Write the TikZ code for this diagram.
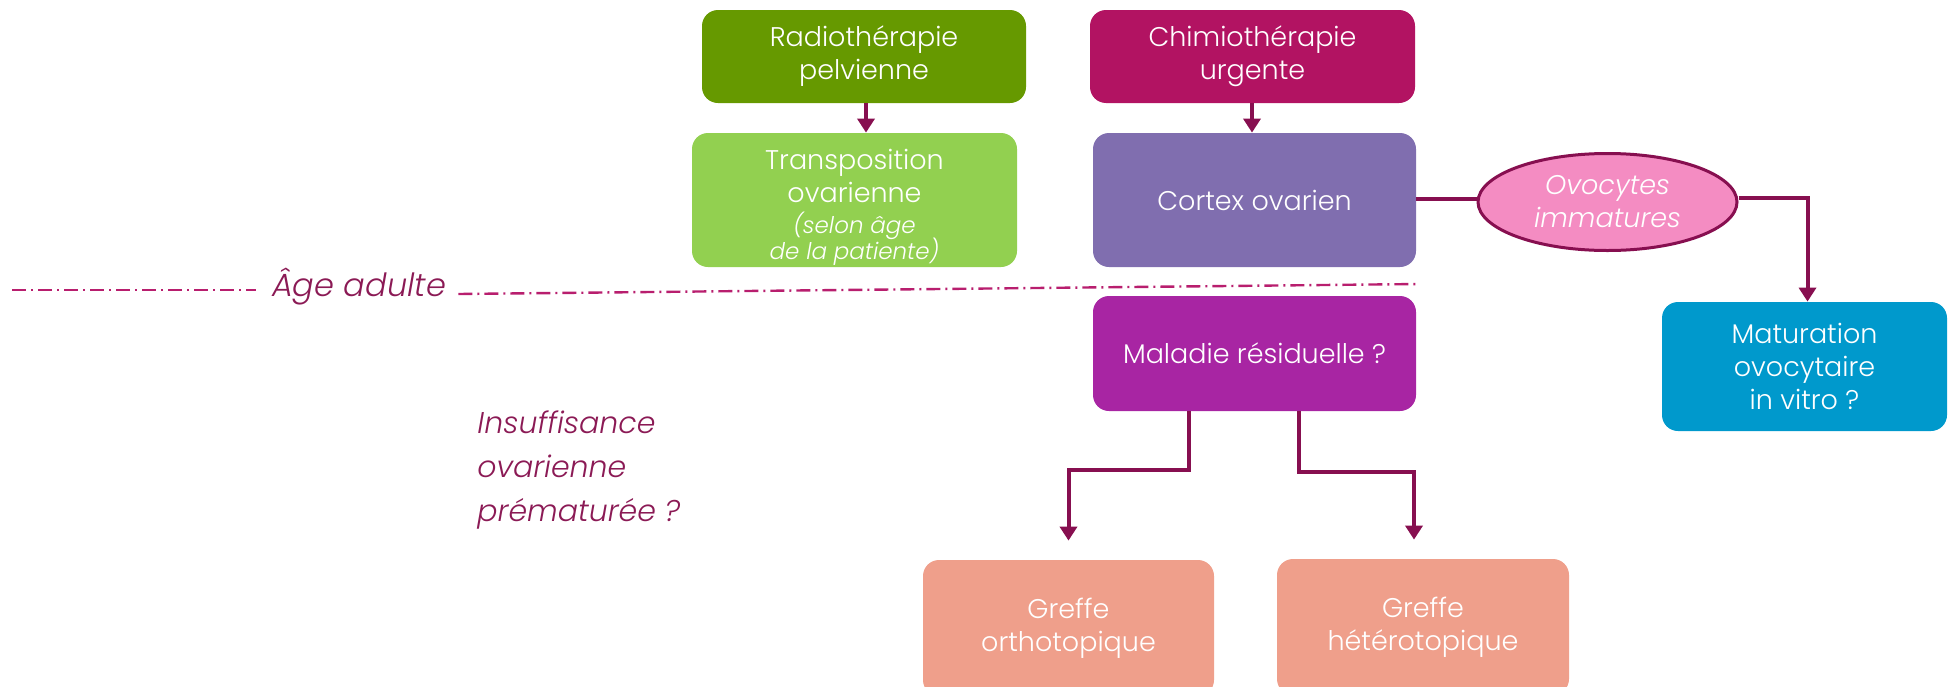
\documentclass[tikz,border=0pt]{standalone}
\usepackage{fontspec}
\setmainfont{Poppins}[UprightFont=* Light, ItalicFont=* Light Italic]
\usetikzlibrary{arrows.meta,shapes.geometric,calc}
\definecolor{cRadio}{RGB}{102,153,0}
\definecolor{cChimio}{RGB}{178,19,98}
\definecolor{cTransp}{RGB}{146,208,80}
\definecolor{cCortex}{RGB}{128,110,175}
\definecolor{cMal}{RGB}{168,37,163}
\definecolor{cMatur}{RGB}{0,153,204}
\definecolor{cGreffe}{RGB}{239,159,139}
\definecolor{cOvo}{RGB}{244,140,194}
\definecolor{cArrow}{RGB}{135,15,80}
\definecolor{cLabel}{RGB}{139,26,85}
\definecolor{cDash}{RGB}{184,30,110}
\newcommand\boxfont{\fontsize{13.5}{16.5}\selectfont}
\newcommand\smallit{\fontsize{11.5}{13}\selectfont\itshape}
\newcommand\bigit{\fontsize{16}{20}\selectfont\itshape}
\newcommand\labit{\fontsize{15}{22}\selectfont\itshape}
\begin{document}
\begin{tikzpicture}[x=0.5pt,y=-0.5pt,
  box/.style={rectangle, rounded corners=8pt, text=white, align=center, font=\boxfont, inner sep=0pt},
  conn/.style={draw=cArrow, line width=2pt},
  arr/.style={conn, -{Triangle[width=8.5pt,length=7pt]}},
  dashline/.style={draw=cDash, line width=1.2pt, dash pattern=on 7pt off 2.5pt on 1pt off 2.5pt}]
\useasboundingbox (0,0) rectangle (1948,686);
% boxes
\node[box, fill=cRadio, minimum width=162pt, minimum height=46.5pt] (radio) at (864,56.5) {Radiothérapie\\pelvienne};
\node[box, fill=cChimio, minimum width=162.5pt, minimum height=46.5pt] (chimio) at (1252.5,56.5) {Chimiothérapie\\urgente};
\node[box, fill=cTransp, minimum width=162.5pt, minimum height=67pt] (transp) at (854.5,200) {\rule{0pt}{17.5pt}Transposition\\ovarienne\\[-1pt]{\smallit (selon âge}\\[-3.5pt]{\smallit de la patiente)}};
\node[box, fill=cCortex, minimum width=161.5pt, minimum height=67pt] (cortex) at (1254.5,200) {Cortex ovarien};
\node[ellipse, draw=cArrow, line width=1.5pt, fill=cOvo, minimum width=129.5pt, minimum height=48.5pt, inner sep=0pt, text=white, align=center, font=\boxfont\itshape] (ovo) at (1607.5,202) {Ovocytes\\immatures};
\node[box, fill=cMatur, minimum width=142.5pt, minimum height=64.5pt] (matur) at (1804.5,366.5) {Maturation\\ovocytaire\\in vitro ?};
\node[box, fill=cMal, minimum width=161.5pt, minimum height=57.5pt] (mal) at (1254.5,353.5) {Maladie résiduelle ?};
\node[box, fill=cGreffe, minimum width=145.5pt, minimum height=68pt] (gortho) at (1068.5,628) {Greffe\\orthotopique};
\node[box, fill=cGreffe, minimum width=146pt, minimum height=68pt] (ghetero) at (1423,627) {Greffe\\hétérotopique};
% labels
\node[text=cLabel, font=\bigit, inner sep=0pt] (age) at (359,287) {Âge adulte};
\node[text=cLabel, font=\labit, align=left, anchor=west, inner sep=0pt] (ipo) at (477,470) {Insuffisance\\ovarienne\\prématurée ?};
% dash-dot line
\coordinate (dl) at (12,290);
\coordinate (dr) at (1420,284);
\draw[dashline] (dl) -- ([xshift=-8pt]dl -| age.west);
\draw[dashline] ([xshift=6pt]age.east |- 0,294) -- (dr);
% connectors
\draw[arr] (radio.south -| 866,0) -- (transp.north -| 866,0);
\draw[arr] (chimio.south -| 1252,0) -- (cortex.north -| 1252,0);
\draw[conn] (cortex.east |- 0,199) -- (ovo.west |- 0,199);
\draw[arr] (ovo.east |- 0,198) -| ([xshift=1.5pt]matur.north);
\draw[arr] (mal.south -| 1189,0) -- (1189,470) -| ([yshift=9.5pt]gortho.north);
\draw[arr] (mal.south -| 1299,0) -- (1299,472) -| ([xshift=-4.5pt,yshift=9.5pt]ghetero.north);
\end{tikzpicture}
\end{document}
